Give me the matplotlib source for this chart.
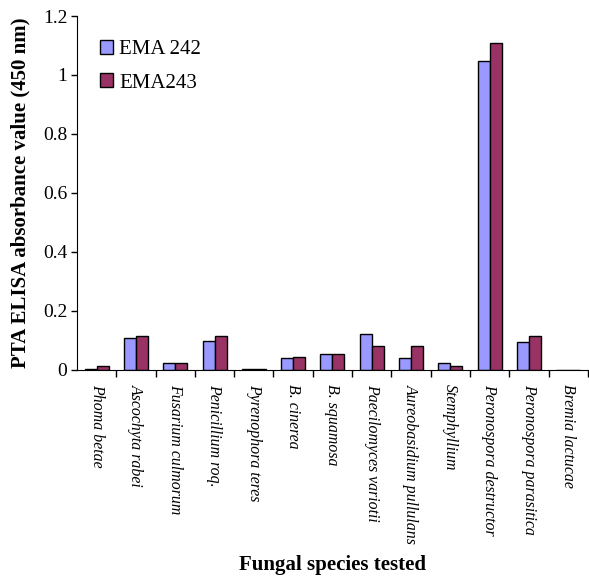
import numpy as np
import matplotlib
matplotlib.use('Agg')
import matplotlib.pyplot as plt
from matplotlib.ticker import FuncFormatter

species = ['Phoma betae', 'Ascochyta rabei', 'Fusarium culmorum', 'Penicillium roq.',
           'Pyrenophora teres', 'B. cinerea', 'B. squamosa', 'Paecilomyces variotii',
           'Aureobasidium pullulans', 'Stemphyllium', 'Peronospora destructor',
           'Peronospora parasitica', 'Bremia lactucae']
ema242 = [0.003, 0.108, 0.024, 0.099, 0.004, 0.041, 0.054, 0.122, 0.041, 0.024, 1.048, 0.095, 0.0]
ema243 = [0.014, 0.114, 0.024, 0.114, 0.004, 0.045, 0.054, 0.081, 0.081, 0.014, 1.108, 0.114, 0.0]

plt.rcParams['font.family'] = ['Liberation Serif', 'DejaVu Serif']

fig = plt.figure(figsize=(5.89, 5.78), dpi=100)
ax = fig.add_axes([0.1307, 0.36, 0.8673, 0.6123])

x = np.arange(len(species))
w = 0.305
ax.bar(x - w / 2, ema242, w, color='#9999FF', edgecolor='black', linewidth=1, label='EMA 242')
ax.bar(x + w / 2, ema243, w, color='#993366', edgecolor='black', linewidth=1, label='EMA243')

ax.set_xlim(-0.5, len(species) - 0.5)
ax.set_ylim(0, 1.2)
ax.set_yticks(np.arange(0, 1.21, 0.2))
ax.yaxis.set_major_formatter(FuncFormatter(lambda v, p: '%g' % round(v, 1)))
ax.tick_params(axis='y', direction='out', length=4, labelsize=14, width=1, pad=3)

ax.set_xticks(x)
ax.set_xticklabels(species, rotation=-90, fontstyle='italic', fontsize=11.4, va='top', ha='center')
ax.tick_params(axis='x', which='major', length=0, pad=10)
ax.set_xticks(np.arange(0.5, len(species), 1), minor=True)
ax.tick_params(axis='x', which='minor', direction='out', length=5, width=1)

for s in ['top', 'right']:
    ax.spines[s].set_visible(False)

ax.set_ylabel('PTA ELISA absorbance value (450 nm)', fontsize=15, fontweight='bold')
ax.yaxis.set_label_coords(-0.092, 0.5)
fig.text(0.5645, 0.0225, 'Fungal species tested', fontsize=15, fontweight='bold', ha='center', va='center')

ax.legend(loc='upper left', bbox_to_anchor=(0.045, 0.932), frameon=False, fontsize=15,
          borderpad=0, borderaxespad=0,
          handlelength=0.63, handleheight=0.63, handletextpad=0.3, labelspacing=0.68)

plt.savefig('out.png', dpi=100)
plt.close()
